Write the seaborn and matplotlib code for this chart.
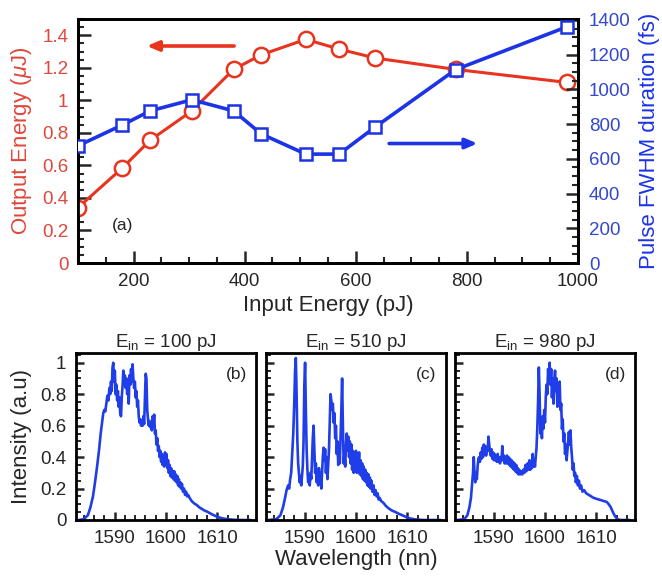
import numpy as np
import pandas as pd
import matplotlib
matplotlib.use("Agg")
import matplotlib.pyplot as plt
from matplotlib.ticker import MultipleLocator, FixedLocator
import seaborn as sns

# ---------------- data ----------------
input_energy = [100, 180, 230, 305, 380, 430, 510, 570, 635, 780, 980]
output_energy = [0.34, 0.585, 0.755, 0.935, 1.19, 1.28, 1.375, 1.315, 1.26, 1.19, 1.11]
pulse_fwhm = [675, 795, 876, 940, 876, 743, 627, 627, 783, 1114, 1360]

left_ticks = [0, 0.2, 0.4, 0.6, 0.8, 1.0, 1.2, 1.4]
left_labels = ["0", "0.2", "0.4", "0.6", "0.8", "1", "1.2", "1.4"]
right_ticks = [0, 200, 400, 600, 800, 1000, 1200, 1400]
x_ticks = [200, 400, 600, 800, 1000]
spec_yticks = [0, 0.2, 0.4, 0.6, 0.8, 1.0]
spec_ylabels = ["0", "0.2", "0.4", "0.6", "0.8", "1"]
spec_xticks = [1590, 1600, 1610]

titles = ["100", "510", "980"]
panel_tags = ["(b)", "(c)", "(d)"]

wl_b = [1583.0, 1584.0, 1584.8, 1585.3, 1585.8, 1586.2, 1586.6, 1587.0, 1587.3, 1587.6, 1587.8, 1588.0,
        1588.2, 1588.4, 1588.6, 1588.8, 1589.0, 1589.15, 1589.3, 1589.45, 1589.6, 1589.75, 1589.9, 1590.05,
        1590.2, 1590.35, 1590.5, 1590.65, 1590.8, 1590.95, 1591.1, 1591.25, 1591.4, 1591.55, 1591.7, 1591.85,
        1592.0, 1592.15, 1592.3, 1592.45, 1592.6, 1592.75, 1592.9, 1593.05, 1593.2, 1593.35, 1593.5, 1593.65,
        1593.8, 1593.95, 1594.1, 1594.25, 1594.4, 1594.55, 1594.7, 1594.85, 1595.0, 1595.15, 1595.3, 1595.45,
        1595.6, 1595.75, 1595.9, 1596.05, 1596.2, 1596.35, 1596.5, 1596.65, 1596.8, 1596.95, 1597.1, 1597.25,
        1597.4, 1597.55, 1597.7, 1597.85, 1598.0, 1598.15, 1598.3, 1598.45, 1598.6, 1598.75, 1598.9, 1599.05,
        1599.2, 1599.35, 1599.5, 1599.65, 1599.8, 1599.95, 1600.1, 1600.25, 1600.4, 1600.55, 1600.7, 1600.85,
        1601.0, 1601.15, 1601.3, 1601.45, 1601.6, 1601.75, 1601.9, 1602.05, 1602.2, 1602.35, 1602.5, 1602.65,
        1602.8, 1602.95, 1603.1, 1603.3, 1603.5, 1603.7, 1603.9, 1604.1, 1604.3, 1604.6, 1605.0, 1605.5,
        1606.0, 1606.5, 1607.0, 1607.5, 1608.0, 1609.0, 1610.0, 1611.0, 1612.0, 1613.0, 1614.5, 1616.5]
int_b = [0.0, 0.005, 0.03, 0.08, 0.15, 0.24, 0.34, 0.45, 0.55, 0.63, 0.68, 0.70,
         0.69, 0.74, 0.79, 0.76, 0.84, 0.80, 0.88, 0.82, 0.97, 1.0, 0.88, 0.95,
         0.80, 0.86, 0.76, 0.82, 0.72, 0.78, 0.68, 0.66, 0.78, 0.85, 0.95, 0.86,
         0.92, 0.84, 0.90, 0.80, 0.88, 0.74, 0.92, 0.86, 0.96, 0.88, 0.99, 0.90,
         0.84, 0.88, 0.78, 0.82, 0.72, 0.76, 0.66, 0.62, 0.64, 0.60, 0.63, 0.60,
         0.66, 0.61, 0.78, 0.93, 0.90, 0.70, 0.64, 0.60, 0.63, 0.59, 0.62, 0.57,
         0.66, 0.60, 0.67, 0.55, 0.57, 0.48, 0.52, 0.44, 0.47, 0.40, 0.44, 0.37,
         0.42, 0.35, 0.40, 0.34, 0.43, 0.37, 0.42, 0.33, 0.38, 0.30, 0.35, 0.28,
         0.33, 0.27, 0.31, 0.26, 0.31, 0.25, 0.29, 0.24, 0.28, 0.22, 0.26, 0.21,
         0.24, 0.20, 0.23, 0.18, 0.20, 0.16, 0.18, 0.15, 0.16, 0.14, 0.12, 0.105,
         0.095, 0.08, 0.07, 0.06, 0.053, 0.035, 0.02, 0.01, 0.005, 0.002, 0.0, 0.0]

wl_c = [1583.0, 1584.5, 1585.3, 1585.8, 1586.2, 1586.5, 1586.8, 1587.0, 1587.2, 1587.4, 1587.6, 1587.8,
        1588.0, 1588.15, 1588.3, 1588.45, 1588.6, 1588.75, 1588.9, 1589.05, 1589.2, 1589.35, 1589.5, 1589.65,
        1589.8, 1589.95, 1590.1, 1590.25, 1590.4, 1590.55, 1590.7, 1590.85, 1591.0, 1591.15, 1591.3, 1591.45,
        1591.6, 1591.75, 1591.9, 1592.05, 1592.2, 1592.35, 1592.5, 1592.65, 1592.8, 1592.95, 1593.1, 1593.25,
        1593.4, 1593.55, 1593.7, 1593.85, 1594.0, 1594.15, 1594.3, 1594.45, 1594.6, 1594.75, 1594.9, 1595.05,
        1595.2, 1595.35, 1595.5, 1595.65, 1595.8, 1595.95, 1596.1, 1596.25, 1596.4, 1596.55, 1596.7, 1596.85,
        1597.0, 1597.15, 1597.3, 1597.45, 1597.6, 1597.75, 1597.9, 1598.05, 1598.2, 1598.35, 1598.5, 1598.65,
        1598.8, 1598.95, 1599.1, 1599.25, 1599.4, 1599.55, 1599.7, 1599.85, 1600.0, 1600.15, 1600.3, 1600.45,
        1600.6, 1600.75, 1600.9, 1601.05, 1601.2, 1601.35, 1601.5, 1601.65, 1601.8, 1601.95, 1602.1, 1602.25,
        1602.4, 1602.55, 1602.7, 1602.85, 1603.0, 1603.2, 1603.4, 1603.6, 1603.8, 1604.0, 1604.2, 1604.4,
        1604.6, 1604.9, 1605.3, 1605.8, 1606.3, 1607.0, 1607.7, 1608.3, 1609.0, 1609.7, 1610.5, 1611.5,
        1613.0, 1616.5]
int_c = [0.0, 0.005, 0.03, 0.08, 0.14, 0.19, 0.22, 0.20, 0.26, 0.30, 0.42, 0.55,
         0.75, 0.95, 1.03, 0.80, 0.50, 0.36, 0.30, 0.24, 0.28, 0.22, 0.28, 0.34,
         0.50, 0.85, 1.0, 0.70, 0.45, 0.32, 0.24, 0.28, 0.22, 0.30, 0.26, 0.40,
         0.52, 0.60, 0.45, 0.30, 0.36, 0.24, 0.30, 0.22, 0.33, 0.25, 0.30, 0.20,
         0.30, 0.40, 0.46, 0.38, 0.45, 0.30, 0.40, 0.26, 0.36, 0.45, 0.62, 0.80,
         0.76, 0.70, 0.74, 0.62, 0.68, 0.52, 0.60, 0.42, 0.50, 0.35, 0.44, 0.36,
         0.52, 0.70, 0.90, 0.60, 0.36, 0.42, 0.34, 0.48, 0.55, 0.44, 0.53, 0.40,
         0.50, 0.36, 0.48, 0.32, 0.44, 0.30, 0.40, 0.32, 0.44, 0.30, 0.40, 0.34,
         0.43, 0.29, 0.38, 0.28, 0.36, 0.26, 0.34, 0.25, 0.32, 0.24, 0.30, 0.22,
         0.29, 0.21, 0.27, 0.20, 0.25, 0.18, 0.22, 0.16, 0.19, 0.15, 0.17, 0.13,
         0.14, 0.12, 0.11, 0.09, 0.075, 0.06, 0.05, 0.04, 0.03, 0.02, 0.01, 0.004,
         0.0, 0.0]

wl_d = [1583.0, 1584.3, 1584.9, 1585.3, 1585.6, 1585.8, 1586.0, 1586.15, 1586.3, 1586.45, 1586.6, 1586.75,
        1586.9, 1587.05, 1587.2, 1587.35, 1587.5, 1587.65, 1587.8, 1587.95, 1588.1, 1588.25, 1588.4, 1588.55,
        1588.7, 1588.85, 1589.0, 1589.15, 1589.3, 1589.45, 1589.6, 1589.75, 1589.9, 1590.05, 1590.2, 1590.35,
        1590.5, 1590.65, 1590.8, 1590.95, 1591.1, 1591.25, 1591.4, 1591.55, 1591.7, 1591.85, 1592.0, 1592.15,
        1592.3, 1592.45, 1592.6, 1592.75, 1592.9, 1593.05, 1593.2, 1593.35, 1593.5, 1593.65, 1593.8, 1593.95,
        1594.1, 1594.25, 1594.4, 1594.55, 1594.7, 1594.85, 1595.0, 1595.2, 1595.4, 1595.6, 1595.8, 1596.0,
        1596.2, 1596.4, 1596.6, 1596.8, 1597.0, 1597.15, 1597.3, 1597.45, 1597.6, 1597.75, 1597.9, 1598.05,
        1598.2, 1598.35, 1598.5, 1598.65, 1598.8, 1598.95, 1599.1, 1599.25, 1599.4, 1599.55, 1599.7, 1599.85,
        1600.0, 1600.15, 1600.3, 1600.45, 1600.6, 1600.75, 1600.9, 1601.05, 1601.2, 1601.35, 1601.5, 1601.65,
        1601.8, 1601.95, 1602.1, 1602.25, 1602.4, 1602.55, 1602.7, 1602.85, 1603.0, 1603.15, 1603.3, 1603.45,
        1603.6, 1603.75, 1603.9, 1604.05, 1604.2, 1604.35, 1604.5, 1604.65, 1604.8, 1604.95, 1605.1, 1605.25,
        1605.4, 1605.55, 1605.7, 1605.85, 1606.0, 1606.2, 1606.4, 1606.6, 1606.8, 1607.0, 1607.3, 1607.6,
        1608.0, 1608.5, 1609.0, 1609.5, 1610.0, 1610.5, 1611.0, 1611.5, 1612.0, 1612.4, 1612.8, 1613.2,
        1613.6, 1614.0, 1614.5, 1616.5]
int_d = [0.0, 0.005, 0.03, 0.08, 0.14, 0.22, 0.30, 0.40, 0.30, 0.24, 0.30, 0.26,
         0.34, 0.39, 0.40, 0.37, 0.43, 0.39, 0.46, 0.40, 0.48, 0.42, 0.47, 0.41,
         0.46, 0.44, 0.53, 0.48, 0.44, 0.41, 0.45, 0.39, 0.43, 0.38, 0.42, 0.38,
         0.41, 0.37, 0.42, 0.37, 0.40, 0.36, 0.40, 0.38, 0.47, 0.38, 0.41, 0.36,
         0.40, 0.36, 0.41, 0.36, 0.40, 0.35, 0.39, 0.34, 0.38, 0.33, 0.37, 0.32,
         0.36, 0.31, 0.35, 0.30, 0.33, 0.29, 0.32, 0.29, 0.31, 0.29, 0.32, 0.30,
         0.35, 0.31, 0.36, 0.32, 0.38, 0.32, 0.36, 0.33, 0.42, 0.34, 0.38, 0.34,
         0.40, 0.46, 0.58, 0.75, 0.97, 0.80, 0.55, 0.62, 0.52, 0.66, 0.58, 0.70,
         0.62, 0.78, 0.86, 0.80, 0.96, 0.88, 1.0, 0.86, 0.96, 0.78, 0.90, 0.74,
         0.88, 0.95, 0.82, 0.90, 0.72, 0.85, 0.75, 0.88, 0.70, 0.74, 0.58, 0.64,
         0.50, 0.55, 0.42, 0.48, 0.38, 0.44, 0.50, 0.56, 0.48, 0.57, 0.46, 0.40,
         0.32, 0.36, 0.28, 0.30, 0.24, 0.28, 0.22, 0.25, 0.20, 0.22, 0.18, 0.19,
         0.17, 0.16, 0.15, 0.14, 0.135, 0.13, 0.125, 0.12, 0.115, 0.10, 0.08, 0.05,
         0.025, 0.008, 0.0, 0.0]

spectra = [(wl_b, int_b), (wl_c, int_c), (wl_d, int_d)]

# ---------------- style ----------------
sns.set_style("ticks")
plt.rcParams["font.family"] = ["Liberation Sans", "DejaVu Sans"]
plt.rcParams["mathtext.fontset"] = "custom"
plt.rcParams["mathtext.rm"] = "Liberation Sans"
plt.rcParams["mathtext.it"] = "Liberation Sans:italic"

RED = "#e8341f"
RED_TXT = "#e0463a"
BLUE = "#1c33e6"
BLUE_TXT = "#3347cf"
SPEC = "#1f3de8"

W, H = 662, 578
fig = plt.figure(figsize=(W / 100, H / 100), dpi=100)

def rect(l, t, r, b):
    return [l / W, 1 - b / H, (r - l) / W, (b - t) / H]

# ---------------- panel (a) ----------------
ax = fig.add_axes(rect(78, 19, 578, 263))
axr = ax.twinx()
df = pd.DataFrame({"inp": input_energy, "out": output_energy, "fwhm": pulse_fwhm})
sns.lineplot(data=df, x="inp", y="out", ax=ax, color=RED, lw=2.2, marker="o",
             markersize=11, markerfacecolor="white", markeredgecolor=RED,
             markeredgewidth=1.8, estimator=None, zorder=3)
sns.lineplot(data=df, x="inp", y="fwhm", ax=axr, color=BLUE, lw=2.6, marker="s",
             markersize=9, markerfacecolor="white", markeredgecolor=BLUE,
             markeredgewidth=1.8, estimator=None, zorder=3)
ax.set_xlim(100, 1000)
ax.set_ylim(0, 1.5)
axr.set_ylim(0, 1405)
ax.xaxis.set_major_locator(FixedLocator(x_ticks))
ax.xaxis.set_minor_locator(MultipleLocator(50))
ax.yaxis.set_major_locator(FixedLocator(left_ticks))
ax.set_yticklabels(left_labels)
ax.yaxis.set_minor_locator(MultipleLocator(0.05))
axr.yaxis.set_major_locator(FixedLocator(right_ticks))
axr.yaxis.set_minor_locator(MultipleLocator(50))
for a in (ax, axr):
    for s in a.spines.values():
        s.set_visible(True)
        s.set_linewidth(2.0)
        s.set_color("black")
ax.tick_params(axis="both", which="major", direction="in", length=9, width=1.8,
               labelsize=13.5, pad=7)
ax.tick_params(axis="both", which="minor", direction="in", length=4.5, width=1.5)
ax.tick_params(axis="y", which="both", left=True, right=False, labelcolor=RED_TXT)
ax.tick_params(axis="x", which="both", top=False)
axr.tick_params(axis="y", which="major", direction="in", length=9, width=1.8,
                labelsize=13.5, pad=8, labelcolor=BLUE_TXT)
axr.tick_params(axis="y", which="minor", direction="in", length=4.5, width=1.5)
ax.set_xlabel("Input Energy (pJ)", fontsize=16, labelpad=4)
ax.set_ylabel(r"Output Energy ($\mu$J)", fontsize=16, color=RED_TXT, labelpad=6)
axr.set_ylabel("Pulse FWHM duration (fs)", fontsize=16, color=BLUE, labelpad=6)

ax.annotate("", xy=(224, 1.334), xytext=(381, 1.334),
            arrowprops=dict(arrowstyle="-|>,head_length=0.7,head_width=0.3",
                            color=RED, lw=2.6, shrinkA=0, shrinkB=0))
axr.annotate("", xy=(819, 688), xytext=(660, 688),
             arrowprops=dict(arrowstyle="-|>,head_length=0.7,head_width=0.3",
                             color=BLUE, lw=2.6, shrinkA=0, shrinkB=0))
ax.text(181, 0.233, "(a)", fontsize=12.5, ha="center", va="center")

# ---------------- spectra (b)-(d) ----------------
lefts = [76, 266, 455]
sax = []
for i, (wl, it) in enumerate(spectra):
    a = fig.add_axes(rect(lefts[i], 353, lefts[i] + 180, 520))
    sdf = pd.DataFrame({"wl": wl, "I": it})
    sns.lineplot(data=sdf, x="wl", y="I", ax=a, color=SPEC, lw=1.9, estimator=None)
    a.set_xlim(1582.5, 1617.5)
    a.set_ylim(0, 1.062)
    a.xaxis.set_major_locator(FixedLocator(spec_xticks))
    a.xaxis.set_minor_locator(MultipleLocator(2))
    a.yaxis.set_major_locator(FixedLocator(spec_yticks))
    a.yaxis.set_minor_locator(MultipleLocator(0.05))
    for s in a.spines.values():
        s.set_visible(True)
        s.set_linewidth(2.0)
        s.set_color("black")
    a.tick_params(axis="both", which="major", direction="in", length=6, width=1.8,
                  labelsize=13.5, pad=7)
    a.tick_params(axis="both", which="minor", direction="in", length=3.5, width=1.4)
    a.tick_params(top=False, right=False, which="both")
    if i == 0:
        a.set_yticklabels(spec_ylabels)
        a.set_ylabel("Intensity (a.u)", fontsize=16, labelpad=6)
    else:
        a.set_yticklabels([])
        a.set_ylabel("")
    if i == 1:
        a.set_xlabel("Wavelength (nn)", fontsize=16, labelpad=2)
    else:
        a.set_xlabel("")
    a.set_title(r"$\mathregular{E_{in}}$ = " + titles[i] + " pJ", fontsize=13.5, pad=3)
    a.text(0.89, 0.87, panel_tags[i], transform=a.transAxes, fontsize=12.5,
           ha="center", va="center")
    sax.append(a)

fig.savefig("out.png", dpi=100)
